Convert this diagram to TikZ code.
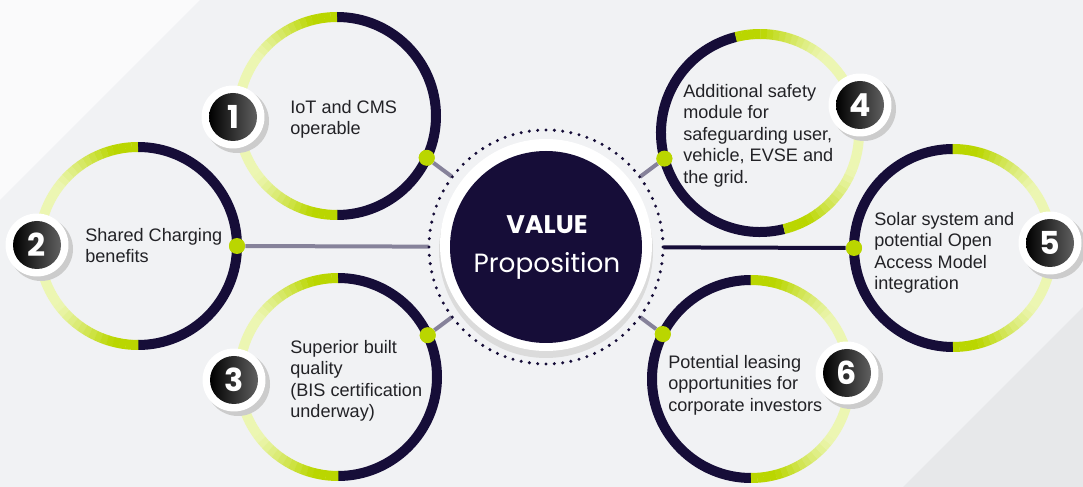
\documentclass[tikz,border=0pt]{standalone}
\usepackage{fontspec}
\setmainfont{Liberation Sans}
\newfontfamily\popfont{Poppins}
\usetikzlibrary{calc}

\definecolor{navy}{RGB}{22,13,56}
\definecolor{lime}{RGB}{186,214,0}
\definecolor{pale}{RGB}{236,246,178}
\definecolor{linkgray}{RGB}{134,130,154}
\definecolor{bgcol}{RGB}{241,242,244}
\definecolor{txtcol}{RGB}{34,34,38}

\begin{document}
\begin{tikzpicture}[x=0.02cm,y=0.02cm,
  ring/.style={line width=0.2cm},
  dot/.style={circle,fill=lime,minimum size=0.32cm,inner sep=0},
  link/.style={line width=0.08cm,linkgray},
  txt/.style={anchor=north west,align=left,inner sep=0,text=txtcol,
    font=\fontsize{10.3}{12.2}\selectfont},
  num/.style={text=white,font=\popfont\bfseries\fontsize{18}{18}\selectfont}]
\useasboundingbox (0,0) rectangle (1083,487);
\fill[bgcol] (0,0) rectangle (1083,487);
\fill[white!65!bgcol] (0,487) -- (200,487) -- (0,287) -- cycle;
\fill[black!4!bgcol] (903,0) -- (1083,180) -- (1083,0) -- cycle;

\coordinate (c1) at (337,371);
\coordinate (c2) at (138,241);
\coordinate (c3) at (338,110);
\coordinate (c4) at (760,354);
\coordinate (c5) at (953,239);
\coordinate (c6) at (751,108);
\coordinate (ctr) at (546,240);

\node[circle,minimum size=4.68cm,inner sep=0] (halo) at (ctr) {};

% dots on the rings
\node[dot] (d1) at ($(c1)+(-25:99)$) {};
\node[dot] (d2) at ($(c2)+(0:99)$) {};
\node[dot] (d3) at ($(c3)+(25:99)$) {};
\node[dot] (d4) at ($(c4)+(195:99)$) {};
\node[dot] (d5) at ($(c5)+(180:99)$) {};
\node[dot] (d6) at ($(c6)+(153:99)$) {};

\draw[link] (d1) -- (halo);
\draw[link] (d2) -- (halo);
\draw[link] (d3) -- (halo);
\draw[link] (d4) -- (halo);
\draw[link,navy] (d5) -- (halo);
\draw[link] (d6) -- (halo);

% rings: dark half and lime half
\foreach \c/\s in {c1/90,c2/90,c3/90,c4/-76,c5/-90,c6/-90}{
  \pgfmathsetmacro\e{\s+180}
  \draw[ring,navy] (\c) ++(\e:99) arc[start angle=\e,delta angle=180,radius=99];
  \foreach \k in {0,...,49}{
    \pgfmathsetmacro\a{\s+3.6*\k}
    \pgfmathsetmacro\p{100*max(0,min(1,(sin(3.6*\k+1.8)-0.25)/0.55))}
    \draw[ring,pale!\p!lime] (\c) ++(\a:99) arc[start angle=\a,delta angle=3.8,radius=99];
  }
}
\foreach \n in {1,...,6}
  \node[dot] at (d\n) {};

% center
\fill[gray!28] (546,236) circle (107);
\fill[white] (546,242) circle (106);
\fill[navy] (ctr) circle (96);
\foreach \k in {0,...,87}
  \fill[navy] ($(ctr)+({\k*(360/88)}:117)$) circle (1.7);
\node[text=white,font=\popfont\bfseries\fontsize{14.5}{14.5}\selectfont,anchor=base] (val) at (547,253) {VALUE};
\node[text=white,font=\popfont\fontsize{15}{15}\selectfont,anchor=base] (prop) at (547,214) {Proposition};

% number badges
\foreach \n/\p in {1/{233,370},2/{37,242},3/{234,107},4/{860,382},5/{1050,244},6/{847,114}}{
  \fill[gray!40] ($(\p)+(4,-4)$) circle (32);
  \node[circle,fill=white,minimum size=1.26cm,inner sep=0] (b\n) at (\p) {};
  \shade[left color=black,right color=gray!75!black] (b\n) circle (24);
  \node[num] at (b\n) {\n};
}

\node[txt] (t1) at (290,387) {IoT and CMS\\operable};
\node[txt] (t2) at (85,259) {Shared Charging\\benefits};
\node[txt] (t3) at (290,147) {Superior built\\quality\\(BIS certification\\underway)};
\node[txt] (t4) at (683,403) {Additional safety\\module for\\safeguarding user,\\vehicle, EVSE and\\the grid.};
\node[txt] (t5) at (874,275) {Solar system and\\potential Open\\Access Model\\integration};
\node[txt] (t6) at (668,132) {Potential leasing\\opportunities for\\corporate investors};
\end{tikzpicture}
\end{document}
